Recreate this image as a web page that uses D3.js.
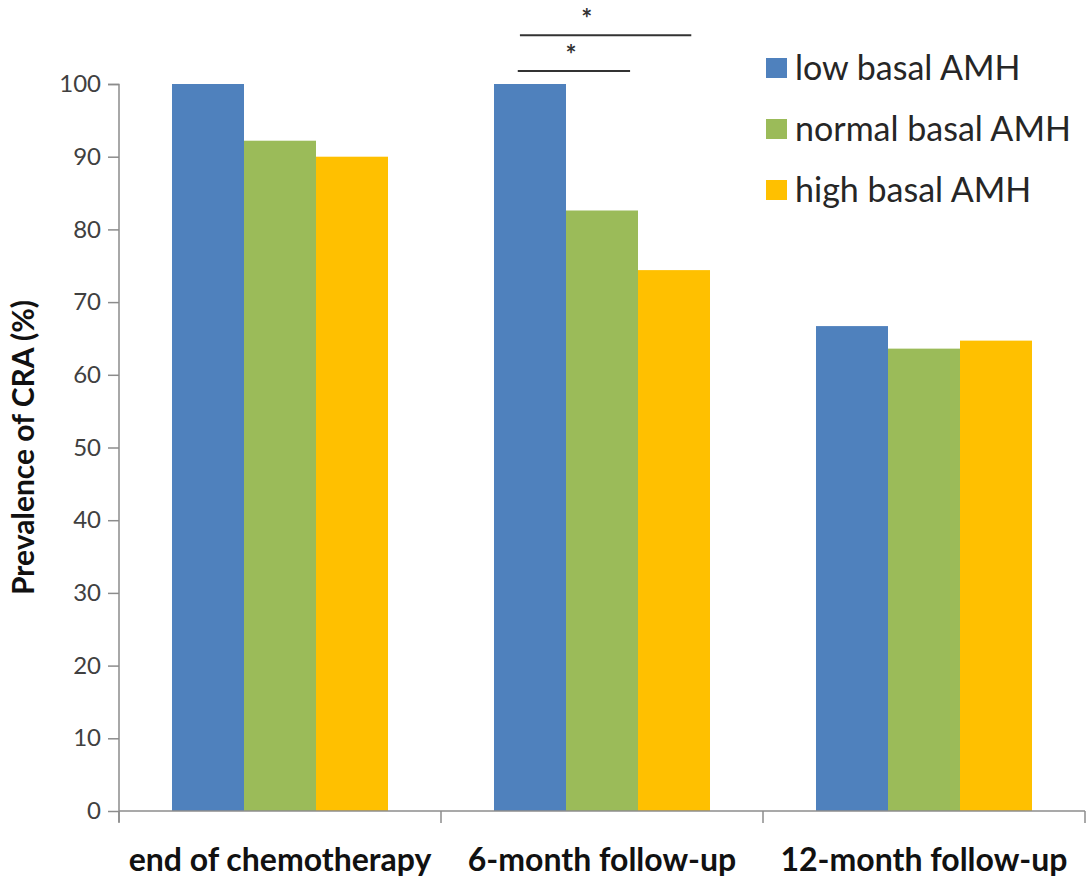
<!DOCTYPE html>
<html>
<head>
<meta charset="utf-8">
<script src="https://cdn.jsdelivr.net/npm/d3@7"></script>
<style>
  body { margin: 0; background: #fff; }
  text { font-family: Lato, "Open Sans", sans-serif; }
</style>
</head>
<body>
<div id="vis-container"></div>
<script>
// data
var categories = ["end of chemotherapy", "6-month follow-up", "12-month follow-up"];
var seriesNames = ["low basal AMH", "normal basal AMH", "high basal AMH"];
var lowValues = [100, 100, 66.7];
var normalValues = [92.2, 82.6, 63.6];
var highValues = [90.0, 74.4, 64.7];
var yTicks = [0, 10, 20, 30, 40, 50, 60, 70, 80, 90, 100];
// significance brackets inside "6-month follow-up" (positions in bar units, level in % units)
var sigStart = [0.33, 0.36];
var sigEnd = [1.89, 2.74];
var sigStar = [1.07, 1.29];
var sigLevel = [101.8, 106.7];

var colors = ["#4f81bd", "#9bbb59", "#ffc000"];
var allSeries = [lowValues, normalValues, highValues];

var width = 1086;
var height = 878;
var margins = { top: 84, right: 1, bottom: 67, left: 119 };
var visWidth = width - margins.left - margins.right;
var visHeight = height - margins.top - margins.bottom;

var svg = d3.select("#vis-container").append("svg")
    .attr("width", width).attr("height", height);
var viewport = svg.append("g")
    .attr("transform", "translate(" + margins.left + "," + margins.top + ")");

var xScale = d3.scaleBand().domain(categories).range([0, visWidth])
    .paddingInner(0).paddingOuter(0);
var innerScale = d3.scaleBand().domain(d3.range(seriesNames.length))
    .range([0, xScale.bandwidth()]).paddingOuter(0.736);
var yScale = d3.scaleLinear().domain([0, 100]).range([visHeight, 0]);

// bars
var barData = [];
allSeries.forEach((vals, s) => {
    vals.forEach((v, c) => barData.push({ cat: categories[c], s: s, v: v }));
});
viewport.append("g").selectAll("rect").data(barData).enter()
    .append("rect")
    .attr("x", d => xScale(d.cat) + innerScale(d.s))
    .attr("width", innerScale.bandwidth())
    .attr("y", d => yScale(d.v))
    .attr("height", d => visHeight - yScale(d.v))
    .attr("fill", d => colors[d.s]);

// axes
var axisColor = "#8c8c8c";
var yAxis = viewport.append("g")
    .call(d3.axisLeft(yScale).tickValues(yTicks).tickSize(11).tickPadding(7));
yAxis.select(".domain").attr("stroke", axisColor).attr("stroke-width", 1.5)
    .attr("d", "M0," + (visHeight + 11) + "V0.5H-11");
yAxis.selectAll(".tick line").attr("stroke", axisColor).attr("stroke-width", 1.5);
yAxis.selectAll(".tick text").attr("fill", "#404040").style("font-size", "24px")
    .style("font-family", "Lato, sans-serif");

var xAxis = viewport.append("g")
    .attr("transform", "translate(0," + visHeight + ")");
xAxis.append("line").attr("x1", 0).attr("x2", visWidth)
    .attr("stroke", axisColor).attr("stroke-width", 1.5);
xAxis.selectAll(".xt").data(d3.range(categories.length + 1)).enter()
    .append("line")
    .attr("x1", i => i * xScale.step()).attr("x2", i => i * xScale.step())
    .attr("y1", 0).attr("y2", 12)
    .attr("stroke", axisColor).attr("stroke-width", 1.5);
xAxis.selectAll(".xl").data(categories).enter()
    .append("text")
    .attr("x", d => xScale(d) + xScale.bandwidth() / 2)
    .attr("y", 60)
    .attr("text-anchor", "middle")
    .attr("fill", "#111")
    .style("font-size", "32px")
    .style("font-weight", "bold")
    .text(d => d);

// y label
svg.append("text")
    .attr("transform", "translate(34," + (margins.top + visHeight * 0.5) + ") rotate(-90)")
    .attr("text-anchor", "middle")
    .attr("fill", "#111")
    .style("font-size", "30px")
    .style("font-weight", "bold")
    .text("Prevalence of CRA (%)");

// significance brackets
var sigG = viewport.append("g");
var sigX = p => xScale(categories[1]) + innerScale(0) + p * innerScale.step();
sigLevel.forEach((lvl, i) => {
    sigG.append("line")
        .attr("x1", sigX(sigStart[i])).attr("x2", sigX(sigEnd[i]))
        .attr("y1", yScale(lvl)).attr("y2", yScale(lvl))
        .attr("stroke", "#333").attr("stroke-width", 2);
    sigG.append("text")
        .attr("x", sigX(sigStar[i])).attr("y", yScale(lvl) - 7)
        .attr("text-anchor", "middle")
        .attr("fill", "#333")
        .style("font-size", "26px")
        .style("font-weight", "bold")
        .text("*");
});

// legend
var legend = svg.append("g").attr("transform", "translate(766,68)");
seriesNames.forEach((name, i) => {
    var row = legend.append("g").attr("transform", "translate(0," + i * 61 + ")");
    row.append("rect").attr("x", 0).attr("y", -10).attr("width", 21).attr("height", 20)
        .attr("fill", colors[i]);
    row.append("text").attr("x", 29).attr("y", 12)
        .attr("fill", "#262626")
        .style("font-size", "34px")
        .text(name);
});
</script>
</body>
</html>
